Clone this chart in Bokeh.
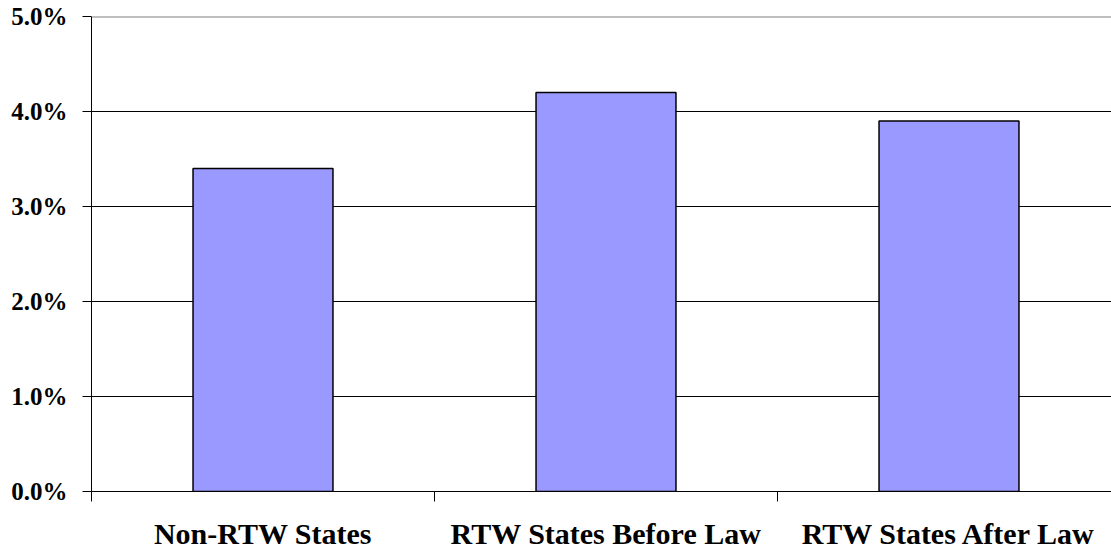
from bokeh.plotting import figure
from bokeh.models import Range1d, FixedTicker, NumeralTickFormatter, ColumnDataSource, Span
from bokeh.embed import file_html
from bokeh.resources import INLINE

categories = ["Non-RTW States", "RTW States Before Law", "RTW States After Law"]
values = [0.034, 0.042, 0.039]
y_ticks = [0.0, 0.01, 0.02, 0.03, 0.04, 0.05]

centers = [i + 0.5 for i in range(len(categories))]
src = ColumnDataSource(dict(x=centers, top=values))

p = figure(width=1111, height=552, output_backend="svg", toolbar_location=None,
           x_range=Range1d(0, 3 * 1020 / 1029), y_range=Range1d(0, 0.05),
           min_border_left=91, min_border_right=0, min_border_top=16, min_border_bottom=61)
p.background_fill_color = "white"
p.border_fill_color = "white"
p.outline_line_color = None

p.vbar(x="x", top="top", width=0.408, bottom=0, source=src,
       fill_color="#9999FF", line_color="black", line_width=1.5)

font = "Liberation Serif"
xa = p.xaxis[0]
xa.ticker = FixedTicker(ticks=centers, minor_ticks=[0, 1, 2, 3])
xa.major_label_overrides = {c: n for c, n in zip(centers, categories)}
xa.major_tick_out = 0
xa.major_tick_in = 0
xa.minor_tick_out = 10
xa.minor_tick_in = 0
xa.minor_tick_line_color = "black"
xa.axis_line_color = "black"
xa.major_label_text_font = font
xa.major_label_text_font_style = "bold"
xa.major_label_text_font_size = "30px"
xa.major_label_text_color = "black"
xa.major_label_standoff = 15

ya = p.yaxis[0]
ya.ticker = FixedTicker(ticks=y_ticks, minor_ticks=[])
ya.formatter = NumeralTickFormatter(format="0.0%")
ya.major_tick_out = 9
ya.major_tick_in = 0
ya.major_tick_line_color = "black"
ya.axis_line_color = "black"
ya.major_label_text_font = font
ya.major_label_text_font_style = "bold"
ya.major_label_text_font_size = "25px"
ya.major_label_text_color = "black"
ya.major_label_standoff = 15

p.xgrid.visible = False
p.ygrid.ticker = FixedTicker(ticks=y_ticks[1:-1])
p.ygrid.grid_line_color = "black"
p.ygrid.grid_line_width = 1
p.add_layout(Span(location=y_ticks[-1], dimension="width",
                  line_color="#808080", line_width=2))

open("out.html", "w").write(file_html(p, INLINE))
